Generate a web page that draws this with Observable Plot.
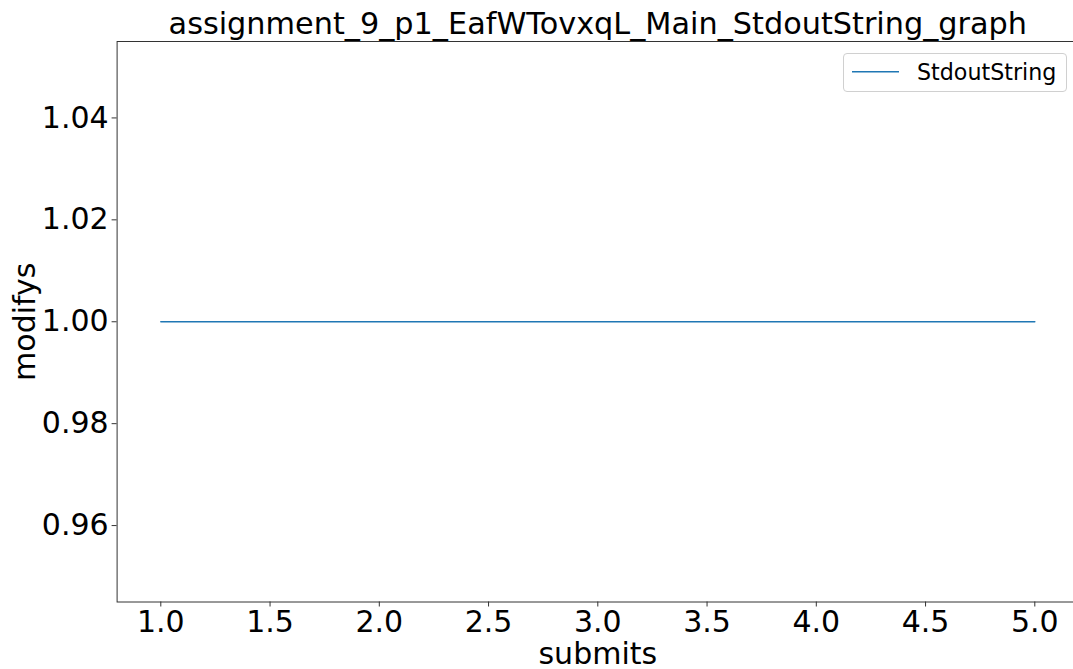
<!DOCTYPE html>
<html><head><meta charset="utf-8">
<script src="https://cdn.jsdelivr.net/npm/d3@7"></script>
<script src="https://cdn.jsdelivr.net/npm/@observablehq/plot@0.6"></script>
<style>
body{margin:0;background:#fff;overflow:hidden}
#chart{position:relative;width:1073px;height:669px;overflow:hidden;font-family:"DejaVu Sans",sans-serif}
#legend{position:absolute;left:843px;top:53px;width:222px;height:37px;border:1px solid #d0d0d0;border-radius:4px;background:rgba(255,255,255,0.8);box-sizing:content-box}
#legend svg{position:absolute;left:0;top:0}
</style>
</head><body><div id="chart"></div>
<script>
const submits = [1, 2, 3, 4, 5];
const modifys = [1, 1, 1, 1, 1];
const seriesName = "StdoutString";
const title = "assignment_9_p1_EafWTovxqL_Main_StdoutString_graph";
const xLabel = "submits";
const yLabel = "modifys";
const xTicks = [1, 1.5, 2, 2.5, 3, 3.5, 4, 4.5, 5];
const yTicks = [0.96, 0.98, 1.00, 1.02, 1.04];
const xDomain = [0.8, 5.2];
const yDomain = [0.945, 1.055];
const lineColor = "#1f77b4";

const data = submits.map((s, i) => ({submits: s, modifys: modifys[i]}));

const plot = Plot.plot({
  width: 1073, height: 669,
  marginLeft: 116.6, marginRight: -5, marginTop: 41, marginBottom: 67.5,
  style: {fontFamily: "DejaVu Sans", background: "#fff", color: "#000", overflow: "visible"},
  x: {domain: xDomain},
  y: {domain: yDomain},
  marks: [
    Plot.frame({stroke: "#333", strokeWidth: 1}),
    Plot.axisX({ticks: xTicks, tickFormat: d3.format(".1f"), tickSize: 5, tickPadding: 4, fontSize: 30, label: null, stroke: "#333"}),
    Plot.axisY({ticks: yTicks, tickFormat: d3.format(".2f"), tickSize: 5, tickPadding: 3.5, fontSize: 30, label: null, stroke: "#333"}),
    Plot.line(data, {x: "submits", y: "modifys", stroke: lineColor, strokeWidth: 1.5}),
    Plot.text([title], {frameAnchor: "top", dy: -7.7, text: d => d, fontSize: 30.3, lineAnchor: "bottom", textAnchor: "middle", fill: "#000"}),
    Plot.text([xLabel], {frameAnchor: "bottom", dy: 61.5, text: d => d, fontSize: 30, lineAnchor: "bottom", textAnchor: "middle", fill: "#000"}),
    Plot.text([yLabel], {frameAnchor: "left", dx: -82.6, rotate: -90, text: d => d, fontSize: 30, lineAnchor: "bottom", textAnchor: "middle", fill: "#000"})
  ]
});
const chart = document.getElementById("chart");
chart.appendChild(plot);

const legend = document.createElement("div");
legend.id = "legend";
legend.innerHTML = `<svg width="224" height="39" xmlns="http://www.w3.org/2000/svg">
  <line x1="8" x2="55" y1="17.7" y2="17.7" stroke="${lineColor}" stroke-width="1.5"/>
  <text x="73" y="26" font-family="DejaVu Sans" font-size="22.2" fill="#000">${seriesName}</text>
</svg>`;
chart.appendChild(legend);
</script>
</body></html>
